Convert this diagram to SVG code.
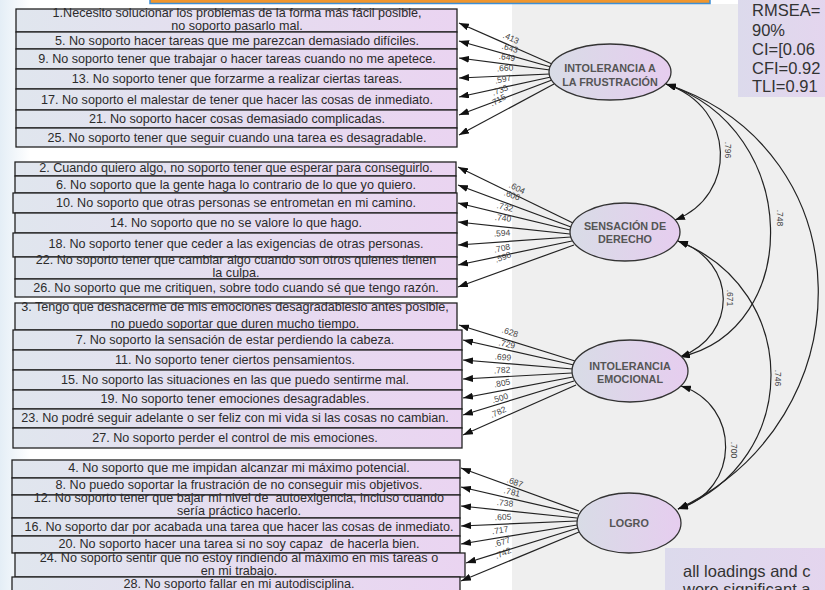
<svg xmlns="http://www.w3.org/2000/svg" width="825" height="590" viewBox="0 0 825 590">
<defs>
<linearGradient id="boxg" x1="0" y1="0" x2="1" y2="0"><stop offset="0" stop-color="#e0e6ee"/><stop offset="1" stop-color="#ead4f1"/></linearGradient>
<linearGradient id="ellg" x1="0" y1="0" x2="1" y2="0"><stop offset="0" stop-color="#d8dce6"/><stop offset="1" stop-color="#e6cdef"/></linearGradient>
<linearGradient id="panelg" x1="0" y1="0" x2="1" y2="0"><stop offset="0" stop-color="#dcdaec"/><stop offset="1" stop-color="#e4d5ee"/></linearGradient>
<linearGradient id="leftg" x1="0" y1="0" x2="1" y2="0"><stop offset="0" stop-color="#e4eef6"/><stop offset="1" stop-color="#ffffff"/></linearGradient>
<marker id="ah" viewBox="0 0 10 7" refX="10" refY="3.5" markerWidth="10" markerHeight="7" markerUnits="userSpaceOnUse" orient="auto-start-reverse"><path d="M0,0 L10,3.5 L0,7 z" fill="#111"/></marker>
<style>
.item rect{fill:url(#boxg);stroke:#222;stroke-width:1.3}
.item text{font-family:"Liberation Sans",Arial,sans-serif;font-size:12.6px;fill:#2b2b2b;text-anchor:middle;white-space:pre}
.factor ellipse{fill:url(#ellg);stroke:#333;stroke-width:1.3}
.factor text{font-family:"Liberation Sans",Arial,sans-serif;font-weight:bold;font-size:10.8px;fill:#555;text-anchor:middle}
.ld{stroke:#222;stroke-width:1.2;fill:none;marker-end:url(#ah)}
.cv{stroke:#222;stroke-width:1.2;fill:none;marker-start:url(#ah);marker-end:url(#ah)}
.lbl{font-family:"Liberation Sans",Arial,sans-serif;font-size:8.5px;fill:#444;text-anchor:middle}
.fit{font-family:"Liberation Sans",Arial,sans-serif;font-size:16.5px;fill:#333}
</style>
</defs>
<rect x="0" y="0" width="825" height="590" fill="#ffffff"/>
<rect x="0" y="0" width="30" height="590" fill="url(#leftg)"/>
<rect x="512" y="4" width="313" height="586" fill="#efefef"/>
<rect x="150" y="-3" width="560" height="6.5" fill="#f0962e" stroke="#3d8fd6" stroke-width="1.5"/>

<g id="fit-panel">
<rect x="738" y="-2" width="92" height="99" fill="url(#panelg)"/>
<text class="fit" x="752" y="16">RMSEA=</text>
<text class="fit" x="752" y="36">90%</text>
<text class="fit" x="752" y="55">CI=[0.06</text>
<text class="fit" x="752" y="74">CFI=0.92</text>
<text class="fit" x="752" y="92">TLI=0.91</text>
</g>
<g id="note-panel">
<rect x="665" y="548" width="165" height="50" fill="url(#panelg)"/>
<text class="fit" x="683" y="577">all loadings and c</text>
<text class="fit" x="683" y="595">were significant a</text>
</g>

<g id="items-frustracion">
<g id="item1" class="item"><rect x="16" y="9" width="441" height="23"/><text x="237" y="17">1.Necesito solucionar los problemas de la forma más fácil posible,</text><text x="237" y="30">no soporto pasarlo mal.</text></g>
<g id="item5" class="item"><rect x="16" y="32" width="441" height="17"/><text x="237" y="45">5. No soporto hacer tareas que me parezcan demasiado difíciles.</text></g>
<g id="item9" class="item"><rect x="16" y="49" width="441" height="20"/><text x="237" y="63">9. No soporto tener que trabajar o hacer tareas cuando no me apetece.</text></g>
<g id="item13" class="item"><rect x="16" y="69" width="441" height="20"/><text x="237" y="83">13. No soporto tener que forzarme a realizar ciertas tareas.</text></g>
<g id="item17" class="item"><rect x="16" y="89" width="441" height="21"/><text x="237" y="104">17. No soporto el malestar de tener que hacer las cosas de inmediato.</text></g>
<g id="item21" class="item"><rect x="16" y="110" width="441" height="18"/><text x="237" y="123">21. No soporto hacer cosas demasiado complicadas.</text></g>
<g id="item25" class="item"><rect x="16" y="128" width="441" height="19"/><text x="237" y="142">25. No soporto tener que seguir cuando una tarea es desagradable.</text></g>
</g>

<g id="items-derecho">
<g id="item2" class="item"><rect x="15" y="162" width="441" height="14"/><text x="236" y="172">2. Cuando quiero algo, no soporto tener que esperar para conseguirlo.</text></g>
<g id="item6" class="item"><rect x="15" y="176" width="441" height="17"/><text x="236" y="189">6. No soporto que la gente haga lo contrario de lo que yo quiero.</text></g>
<g id="item10" class="item"><rect x="13" y="193" width="444" height="20"/><text x="236" y="207">10. No soporto que otras personas se entrometan en mi camino.</text></g>
<g id="item14" class="item"><rect x="15" y="213" width="442" height="20"/><text x="236" y="227">14. No soporto que no se valore lo que hago.</text></g>
<g id="item18" class="item"><rect x="13" y="233" width="444" height="24"/><text x="236" y="248">18. No soporto tener que ceder a las exigencias de otras personas.</text></g>
<g id="item22" class="item"><rect x="15" y="257" width="442" height="22"/><text x="236" y="264">22. No soporto tener que cambiar algo cuando son otros quienes tienen</text><text x="236" y="277">la culpa.</text></g>
<g id="item26" class="item"><rect x="15" y="279" width="442" height="18"/><text x="236" y="292">26. No soporto que me critiquen, sobre todo cuando sé que tengo razón.</text></g>
</g>

<g id="items-emocional">
<g id="item3" class="item"><rect x="15" y="303" width="442" height="27"/><text x="235" y="311">3. Tengo que deshacerme de mis emociones desagradableslo antes posible,</text><text x="235" y="328">no puedo soportar que duren mucho tiempo.</text></g>
<g id="item7" class="item"><rect x="13" y="330" width="449" height="20"/><text x="235" y="344">7. No soporto la sensación de estar perdiendo la cabeza.</text></g>
<g id="item11" class="item"><rect x="13" y="350" width="449" height="20"/><text x="235" y="364">11. No soporto tener ciertos pensamientos.</text></g>
<g id="item15" class="item"><rect x="13" y="370" width="449" height="20"/><text x="235" y="384">15. No soporto las situaciones en las que puedo sentirme mal.</text></g>
<g id="item19" class="item"><rect x="13" y="390" width="449" height="19"/><text x="235" y="403">19. No soporto tener emociones desagradables.</text></g>
<g id="item23" class="item"><rect x="13" y="409" width="449" height="19"/><text x="235" y="422">23. No podré seguir adelante o ser feliz con mi vida si las cosas no cambian.</text></g>
<g id="item27" class="item"><rect x="13" y="428" width="449" height="20"/><text x="235" y="442">27. No soporto perder el control de mis emociones.</text></g>
</g>

<g id="items-logro">
<g id="item4" class="item"><rect x="12" y="460" width="448" height="18"/><text x="239" y="472">4. No soporto que me impidan alcanzar mi máximo potencial.</text></g>
<g id="item8" class="item"><rect x="12" y="478" width="448" height="17"/><text x="239" y="489">8. No puedo soportar la frustración de no conseguir mis objetivos.</text></g>
<g id="item12" class="item"><rect x="12" y="495" width="448" height="23"/><text x="239" y="502">12. No soporto tener que bajar mi nivel de  autoexigencia, incluso cuando</text><text x="239" y="515">sería práctico hacerlo.</text></g>
<g id="item16" class="item"><rect x="12" y="518" width="448" height="18"/><text x="239" y="531">16. No soporto dar por acabada una tarea que hacer las cosas de inmediato.</text></g>
<g id="item20" class="item"><rect x="12" y="536" width="448" height="17"/><text x="239" y="548">20. No soporto hacer una tarea si no soy capaz  de hacerla bien.</text></g>
<g id="item24" class="item"><rect x="15" y="553" width="450" height="24"/><text x="239" y="562">24. No soporto sentir que no estoy rindiendo al máximo en mis tareas o</text><text x="239" y="575">en mi trabajo.</text></g>
<g id="item28" class="item"><rect x="12" y="577" width="448" height="18"/><text x="239" y="588">28. No soporto fallar en mi autodisciplina.</text></g>
</g>

<g id="connectors">
<path class="ld" d="M552,64 L459,23"/>
<path class="ld" d="M551,67 L459,41"/>
<path class="ld" d="M550,70 L459,58"/>
<path class="ld" d="M550,74 L459,78"/>
<path class="ld" d="M551,77 L459,97"/>
<path class="ld" d="M552,80 L459,115"/>
<path class="ld" d="M554,84 L459,135"/>
<path class="ld" d="M573,223 L458,167"/>
<path class="ld" d="M571,227 L458,185"/>
<path class="ld" d="M570,230 L458,203"/>
<path class="ld" d="M570,234 L458,222"/>
<path class="ld" d="M571,237 L458,245"/>
<path class="ld" d="M572,241 L458,265"/>
<path class="ld" d="M574,245 L458,287"/>
<path class="ld" d="M575,361 L459,325"/>
<path class="ld" d="M574,365 L463,340"/>
<path class="ld" d="M573,369 L463,360"/>
<path class="ld" d="M572,373 L463,379"/>
<path class="ld" d="M573,377 L463,398"/>
<path class="ld" d="M574,381 L463,415"/>
<path class="ld" d="M576,385 L463,435"/>
<path class="ld" d="M579,511 L461,468"/>
<path class="ld" d="M578,514 L461,487"/>
<path class="ld" d="M577,518 L461,506"/>
<path class="ld" d="M577,521 L461,526"/>
<path class="ld" d="M577,525 L461,544"/>
<path class="ld" d="M578,528 L466,563"/>
<path class="ld" d="M579,532 L461,581"/>
<path class="cv" d="M666,84 C737,108 737,196 675,220"/>
<path class="cv" d="M666,84 C803,130 803,330 680,357"/>
<path class="cv" d="M666,84 C867,150 867,420 678,509"/>
<path class="cv" d="M678,241 C738,262 738,335 680,357"/>
<path class="cv" d="M678,241 C802,290 802,460 678,509"/>
<path class="cv" d="M681,386 C741,405 741,490 678,509"/>
<text class="lbl" transform="translate(511,38) rotate(24)" y="3">.413</text>
<text class="lbl" transform="translate(510,48) rotate(16)" y="3">.643</text>
<text class="lbl" transform="translate(507,57) rotate(8)" y="3">.649</text>
<text class="lbl" transform="translate(505,68) rotate(-3)" y="3">.660</text>
<text class="lbl" transform="translate(503,79) rotate(-12)" y="3">.597</text>
<text class="lbl" transform="translate(500,90) rotate(-20)" y="3">.735</text>
<text class="lbl" transform="translate(498,100) rotate(-28)" y="3">.715</text>
<text class="lbl" transform="translate(517,188) rotate(26)" y="3">.604</text>
<text class="lbl" transform="translate(512,195) rotate(20)" y="3">.606</text>
<text class="lbl" transform="translate(505,207) rotate(13)" y="3">.732</text>
<text class="lbl" transform="translate(503,218) rotate(6)" y="3">.740</text>
<text class="lbl" transform="translate(502,233) rotate(-4)" y="3">.594</text>
<text class="lbl" transform="translate(502,248) rotate(-12)" y="3">.708</text>
<text class="lbl" transform="translate(503,257) rotate(-20)" y="3">.598</text>
<text class="lbl" transform="translate(510,332) rotate(18)" y="3">.628</text>
<text class="lbl" transform="translate(507,344) rotate(12)" y="3">.729</text>
<text class="lbl" transform="translate(503,357) rotate(5)" y="3">.699</text>
<text class="lbl" transform="translate(502,370) rotate(-3)" y="3">.782</text>
<text class="lbl" transform="translate(502,383) rotate(-11)" y="3">.805</text>
<text class="lbl" transform="translate(500,398) rotate(-17)" y="3">.500</text>
<text class="lbl" transform="translate(498,412) rotate(-24)" y="3">.782</text>
<text class="lbl" transform="translate(515,482) rotate(20)" y="3">.687</text>
<text class="lbl" transform="translate(512,492) rotate(13)" y="3">.781</text>
<text class="lbl" transform="translate(505,503) rotate(6)" y="3">.738</text>
<text class="lbl" transform="translate(503,517) rotate(-2)" y="3">.605</text>
<text class="lbl" transform="translate(500,530) rotate(-9)" y="3">.717</text>
<text class="lbl" transform="translate(502,542) rotate(-17)" y="3">.677</text>
<text class="lbl" transform="translate(503,553) rotate(-23)" y="3">.742</text>
<text class="lbl" transform="translate(728,150) rotate(90)" y="3">.796</text>
<text class="lbl" transform="translate(780,218) rotate(90)" y="3">.748</text>
<text class="lbl" transform="translate(730,298) rotate(90)" y="3">.671</text>
<text class="lbl" transform="translate(778,378) rotate(90)" y="3">.746</text>
<text class="lbl" transform="translate(734,450) rotate(90)" y="3">.700</text>
</g>

<g id="f-frustracion" class="factor"><ellipse cx="610" cy="72" rx="61" ry="28"/><text x="610" y="72">INTOLERANCIA A</text><text x="610" y="86">LA FRUSTRACIÓN</text></g>
<g id="f-derecho" class="factor"><ellipse cx="625" cy="232" rx="55" ry="29"/><text x="625" y="230">SENSACIÓN DE</text><text x="625" y="243">DERECHO</text></g>
<g id="f-emocional" class="factor"><ellipse cx="630" cy="371" rx="58" ry="31"/><text x="630" y="370">INTOLERANCIA</text><text x="630" y="383">EMOCIONAL</text></g>
<g id="f-logro" class="factor"><ellipse cx="629" cy="523" rx="52" ry="30"/><text x="629" y="527">LOGRO</text></g>
</svg>
